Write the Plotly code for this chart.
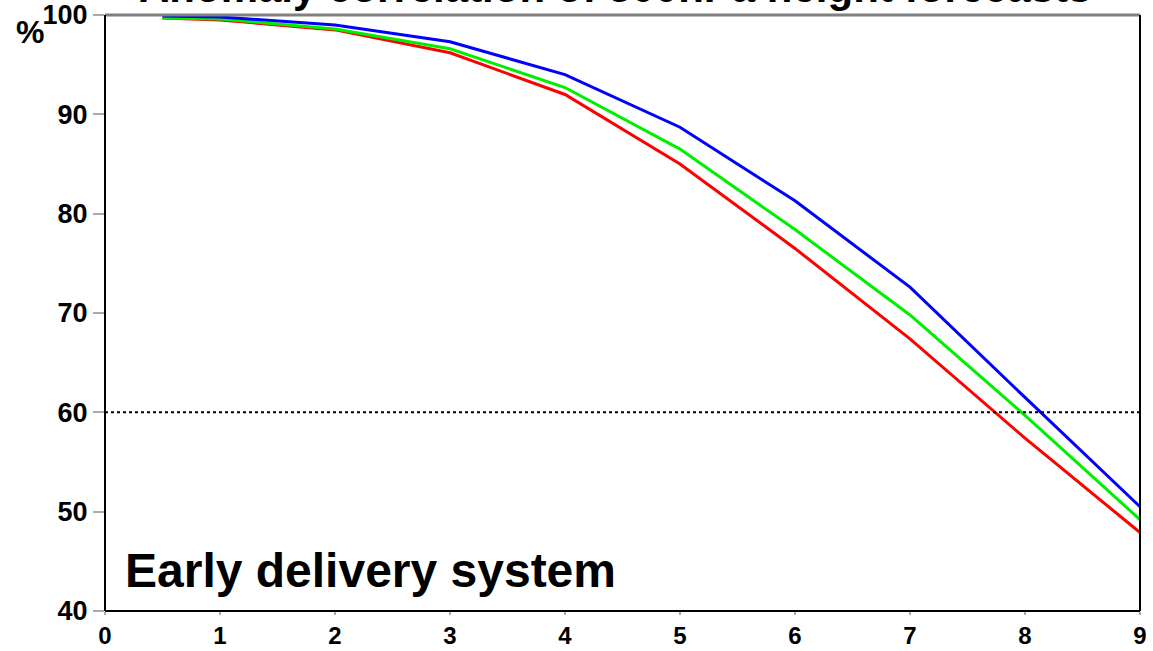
import plotly.graph_objects as go

steps = [0.5, 1, 2, 3, 4, 5, 6, 7, 8, 9]
blue_vals = [99.9, 99.8, 99.0, 97.3, 94.0, 88.7, 81.3, 72.6, 61.5, 50.5]
green_vals = [99.7, 99.6, 98.6, 96.6, 92.7, 86.5, 78.4, 69.8, 59.7, 49.2]
red_vals = [99.7, 99.5, 98.5, 96.2, 92.0, 85.0, 76.5, 67.4, 57.4, 47.9]
threshold = 60
x_ticks = [0, 1, 2, 3, 4, 5, 6, 7, 8, 9]
y_ticks = [40, 50, 60, 70, 80, 90, 100]

FONT = "Liberation Sans, Arial, sans-serif"

fig = go.Figure()
for vals, col in [(red_vals, "#ff0000"), (green_vals, "#00ee00"), (blue_vals, "#0000ff")]:
    fig.add_trace(go.Scatter(x=steps, y=vals, mode="lines",
                             line=dict(color=col, width=3), showlegend=False))

fig.add_shape(type="line", xref="x", yref="y", x0=0, x1=9, y0=threshold, y1=threshold,
              line=dict(color="black", width=2, dash="dot"))

# frame
fig.add_shape(type="line", xref="paper", yref="paper", x0=0, x1=1, y0=1, y1=1,
              line=dict(color="#808080", width=3))
fig.add_shape(type="line", xref="paper", yref="paper", x0=0, x1=0, y0=0, y1=1,
              line=dict(color="black", width=2))
fig.add_shape(type="line", xref="paper", yref="paper", x0=1, x1=1, y0=0, y1=1,
              line=dict(color="black", width=2))
fig.add_shape(type="line", xref="paper", yref="paper", x0=0, x1=1, y0=0, y1=0,
              line=dict(color="black", width=2))

fig.add_annotation(text="<b>Anomaly correlation of 500hPa height forecasts</b>",
                   xref="paper", yref="paper", x=0.493, y=1.0, xanchor="center",
                   yanchor="bottom", yshift=2, showarrow=False,
                   font=dict(family=FONT, size=42, color="black"))
fig.add_annotation(text="<b>Early delivery system</b>", xref="paper", yref="paper",
                   x=0.017, y=0.068, xanchor="left", yanchor="middle", showarrow=False,
                   font=dict(family=FONT, size=48, color="black"))
fig.add_annotation(text="<b>%</b>", xref="paper", yref="paper", x=-0.088, y=0.972,
                   xanchor="left", yanchor="middle", showarrow=False,
                   font=dict(family=FONT, size=32, color="black"))

fig.update_xaxes(range=[0, 9], tickvals=x_ticks, ticktext=[str(t) for t in x_ticks],
                 ticks="outside", ticklen=3, tickwidth=2, tickcolor="#aaaaaa",
                 showgrid=False, zeroline=False, showline=False, automargin=False,
                 tickfont=dict(family=FONT, size=24, color="black", weight="bold"))
fig.update_yaxes(range=[40, 100], tickvals=y_ticks, ticktext=[str(t) for t in y_ticks],
                 ticks="outside", ticklen=11, tickwidth=2, tickcolor="#aaaaaa",
                 showgrid=False, zeroline=False, showline=False, automargin=False,
                 tickfont=dict(family=FONT, size=27, color="black", weight="bold"))

fig.update_layout(width=1153, height=651, margin=dict(l=105, r=13, t=15, b=40),
                  plot_bgcolor="white", paper_bgcolor="white")

fig.write_html("out.html")
